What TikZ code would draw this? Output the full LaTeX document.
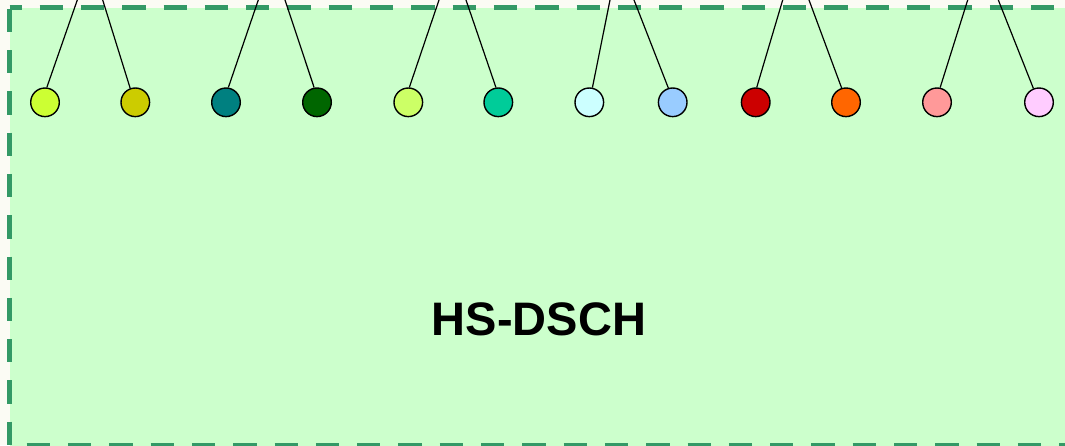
\documentclass[tikz,border=0pt]{standalone}
\usepackage{fontspec}
\setmainfont{Liberation Sans}
\definecolor{pagebg}{HTML}{FBFBF4}
\definecolor{chanfill}{HTML}{CCFFCC}
\definecolor{chanedge}{HTML}{339966}
\definecolor{cA}{HTML}{CCFF33}
\definecolor{cB}{HTML}{CCCC00}
\definecolor{cC}{HTML}{008080}
\definecolor{cD}{HTML}{006600}
\definecolor{cE}{HTML}{CCFF66}
\definecolor{cF}{HTML}{00CC99}
\definecolor{cG}{HTML}{CCFFFF}
\definecolor{cH}{HTML}{99CCFF}
\definecolor{cI}{HTML}{CC0000}
\definecolor{cJ}{HTML}{FF6600}
\definecolor{cK}{HTML}{FF9999}
\definecolor{cL}{HTML}{FFCCFF}
\tikzset{
  port/.style={circle, draw=black, line width=1.4pt, minimum size=28.6pt, inner sep=0pt, fill=#1},
  link/.style={draw=black, line width=1.2pt},
  chanborder/.style={draw=chanedge, line width=5pt, dash pattern=on 23.3pt off 18pt},
}
\begin{document}
\begin{tikzpicture}[x=1pt, y=-1pt]
  \useasboundingbox[fill=pagebg] (0,0) rectangle (1065,445);
  \clip (0,0) rectangle (1065,445);

  % channel block
  \fill[chanfill] (9.5,7.5) rectangle (1080,460);
  \draw[chanborder, dash phase=11.2pt] (9.5,7.5) -- (1080,7.5);
  \draw[chanborder, dash phase=40.1pt] (9.5,7.5) -- (9.5,460);
  \draw[chanborder, dash phase=24.1pt] (9.5,445.8) -- (1080,445.8);

  \node[font=\fontsize{47}{47}\selectfont\bfseries] (title) at (539,319.7) {HS-DSCH};

  % transport channel ports
  \node[port=cA] (p1)  at (45,102.3) {};
  \node[port=cB] (p2)  at (135.3,102.3) {};
  \node[port=cC] (p3)  at (226,102.3) {};
  \node[port=cD] (p4)  at (317,102.3) {};
  \node[port=cE] (p5)  at (408.3,102.3) {};
  \node[port=cF] (p6)  at (498.3,102.3) {};
  \node[port=cG] (p7)  at (589.3,102.3) {};
  \node[port=cH] (p8)  at (672.7,102.3) {};
  \node[port=cI] (p9)  at (755.7,102.3) {};
  \node[port=cJ] (p10) at (846,102.3) {};
  \node[port=cK] (p11) at (937,102.3) {};
  \node[port=cL] (p12) at (1039,102.3) {};

  % upper ends of the flows
  \coordinate (t1)  at (77.3,0);
  \coordinate (t2)  at (102.7,0);
  \coordinate (t3)  at (258.3,0);
  \coordinate (t4)  at (285,0);
  \coordinate (t5)  at (439,0);
  \coordinate (t6)  at (466,0);
  \coordinate (t7)  at (610,0);
  \coordinate (t8)  at (634,0);
  \coordinate (t9)  at (782.7,0);
  \coordinate (t10) at (809,0);
  \coordinate (t11) at (967.7,0);
  \coordinate (t12) at (998.3,0);

  \draw[link] (p1.83)   -- (t1);
  \draw[link] (p2.110)  -- (t2);
  \draw[link] (p3.81)   -- (t3);
  \draw[link] (p4.101)  -- (t4);
  \draw[link] (p5.86)   -- (t5);
  \draw[link] (p6.99)   -- (t6);
  \draw[link] (p7.78)   -- (t7);
  \draw[link] (p8.107)  -- (t8);
  \draw[link] (p9.86)   -- (t9);
  \draw[link] (p10.107) -- (t10);
  \draw[link] (p11.78)  -- (t11);
  \draw[link] (p12.112) -- (t12);
\end{tikzpicture}
\end{document}
